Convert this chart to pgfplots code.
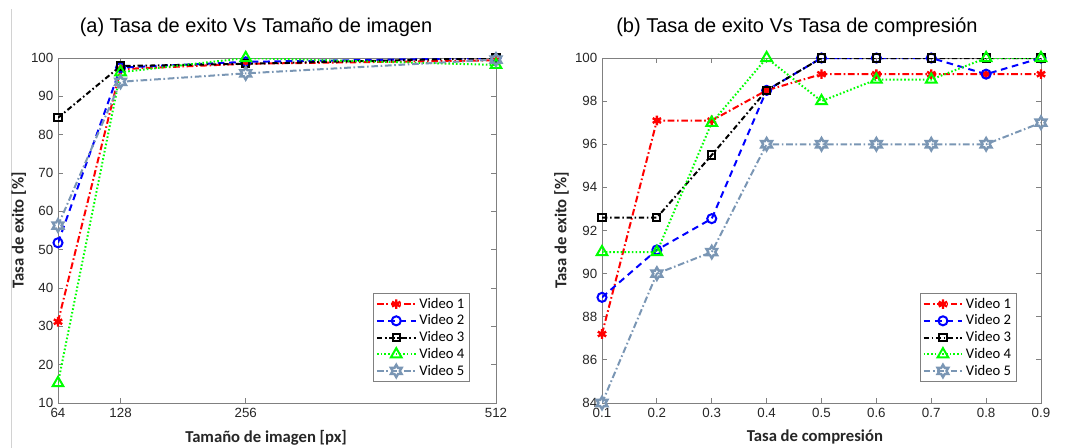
\documentclass[border=0pt]{standalone}
\usepackage{fontspec}
\setmainfont{Liberation Sans}
\newfontfamily\calfont{Carlito}
\usepackage{pgfplots}
\pgfplotsset{compat=1.18}
\usetikzlibrary{plotmarks}

\definecolor{vgray}{RGB}{122,150,180}
\definecolor{axgray}{RGB}{128,128,128}
\definecolor{txtgray}{RGB}{38,38,38}

% six-pointed star (MATLAB hexagram)
\pgfdeclareplotmark{hexagram}{%
  \pgfpathmoveto{\pgfpointpolar{90}{\pgfplotmarksize}}%
  \pgfpathlineto{\pgfpointpolar{120}{0.577\pgfplotmarksize}}%
  \pgfpathlineto{\pgfpointpolar{150}{\pgfplotmarksize}}%
  \pgfpathlineto{\pgfpointpolar{180}{0.577\pgfplotmarksize}}%
  \pgfpathlineto{\pgfpointpolar{210}{\pgfplotmarksize}}%
  \pgfpathlineto{\pgfpointpolar{240}{0.577\pgfplotmarksize}}%
  \pgfpathlineto{\pgfpointpolar{270}{\pgfplotmarksize}}%
  \pgfpathlineto{\pgfpointpolar{300}{0.577\pgfplotmarksize}}%
  \pgfpathlineto{\pgfpointpolar{330}{\pgfplotmarksize}}%
  \pgfpathlineto{\pgfpointpolar{0}{0.577\pgfplotmarksize}}%
  \pgfpathlineto{\pgfpointpolar{30}{\pgfplotmarksize}}%
  \pgfpathlineto{\pgfpointpolar{60}{0.577\pgfplotmarksize}}%
  \pgfpathclose\pgfusepathqstroke}

\pgfplotsset{
  matlab/.style={
    scale only axis,
    height=258.75pt,
    axis line style={axgray, line width=0.6pt},
    tick style={axgray, line width=0.6pt},
    major tick length=4pt,
    tick align=inside,
    ticklabel style={font=\fontsize{10}{12}\selectfont, text=txtgray},
    /pgf/number format/assume math mode=true,
    title style={anchor=base, yshift=13.5pt, font=\fontsize{15}{18}\selectfont, inner sep=0pt},
    label style={font=\calfont\bfseries\fontsize{12.5}{15}\selectfont, text=txtgray, inner sep=0pt},
    legend style={draw=axgray, line width=0.6pt, fill=white, anchor=north east,
      font=\calfont\fontsize{11}{12}\selectfont, cells={anchor=west},
      inner xsep=2pt, inner ysep=1.5pt, row sep=-0.6pt},
    legend image code/.code={%
      \draw[mark repeat=2,mark phase=2] plot coordinates {(0pt,0pt) (14.5pt,0pt) (29pt,0pt)};},
    every axis plot/.append style={line width=1.5pt},
  },
  v1/.style={red, dash pattern=on 5pt off 2pt on 1.2pt off 2pt, mark=asterisk, mark size=3.6pt,
    mark options={solid, line width=1.8pt}},
  v2/.style={blue, dash pattern=on 5pt off 3.5pt, mark=o, mark size=3.4pt,
    mark options={solid, line width=1.5pt}},
  v3/.style={black, dash pattern=on 4pt off 2pt on 1.2pt off 2pt, mark=square, mark size=2.7pt,
    mark options={solid, line width=1.5pt}},
  v4/.style={green, dash pattern=on 1.2pt off 1.6pt, mark=triangle, mark size=4.6pt,
    mark options={solid, line width=1.5pt}},
  v5/.style={vgray, dash pattern=on 5pt off 2pt on 1.2pt off 2pt, mark=hexagram, mark size=4.6pt,
    mark options={solid, line width=1.8pt}},
}

\begin{document}
\begin{tikzpicture}
\useasboundingbox (0,0) rectangle (801pt,-335.25pt);
\draw[gray!35, line width=0.6pt] (8.5pt,-7pt) -- (8.5pt,-336pt);

\begin{axis}[
  matlab,
  at={(43.5pt,-302.25pt)}, anchor=south west,
  width=328.5pt,
  xmin=64, xmax=512, ymin=10, ymax=100,
  xtick={64,128,256,512},
  ytick={10,20,...,100},
  title={(a) Tasa de exito Vs Tamaño de imagen},
  title style={at={(axis description cs:0.452,1)}},
  xlabel={Tamaño de imagen [px]},
  ylabel={Tasa de exito [\%]},
  xlabel style={at={(axis description cs:0.475,-0.078)}, anchor=north},
  ylabel style={at={(axis description cs:-0.072,0.5)}, anchor=south},
  legend style={at={(axis description cs:0.941,0.319)}, anchor=north east},
]
\addplot[v1] coordinates {(64,31.2) (128,97.1) (256,98.5) (512,99.4)};
\addplot[v2] coordinates {(64,51.8) (128,97.5) (256,99.0) (512,100)};
\addplot[v3] coordinates {(64,84.4) (128,97.9) (256,98.5) (512,100)};
\addplot[v4] coordinates {(64,15.2) (128,96.3) (256,100) (512,98.2)};
\addplot[v5] coordinates {(64,56.3) (128,93.8) (256,96.0) (512,99.6)};
\legend{Video 1, Video 2, Video 3, Video 4, Video 5}
\end{axis}

\begin{axis}[
  matlab,
  at={(451.5pt,-302.25pt)}, anchor=south west,
  width=329.25pt,
  xmin=0.1, xmax=0.9, ymin=84, ymax=100,
  xtick={0.1,0.2,...,0.9},
  ytick={84,86,...,100},
  xticklabel style={/pgf/number format/.cd, fixed, fixed zerofill, precision=1},
  title={(b) Tasa de exito Vs Tasa de compresión},
  title style={at={(axis description cs:0.444,1)}},
  xlabel={Tasa de compresión},
  ylabel={Tasa de exito [\%]},
  xlabel style={at={(axis description cs:0.485,-0.078)}, anchor=north},
  ylabel style={at={(axis description cs:-0.075,0.5)}, anchor=south},
  legend style={at={(axis description cs:0.945,0.319)}, anchor=north east},
]
\addplot[v1] coordinates {(0.1,87.2) (0.2,97.1) (0.3,97.1) (0.4,98.5) (0.5,99.25) (0.6,99.25) (0.7,99.25) (0.8,99.25) (0.9,99.25)};
\addplot[v2] coordinates {(0.1,88.9) (0.2,91.1) (0.3,92.55) (0.4,98.5) (0.5,100) (0.6,100) (0.7,100) (0.8,99.25) (0.9,100)};
\addplot[v3] coordinates {(0.1,92.6) (0.2,92.6) (0.3,95.5) (0.4,98.5) (0.5,100) (0.6,100) (0.7,100) (0.8,100) (0.9,100)};
\addplot[v4] coordinates {(0.1,91.0) (0.2,91.0) (0.3,97.0) (0.4,100) (0.5,98.0) (0.6,99.0) (0.7,99.0) (0.8,100) (0.9,100)};
\addplot[v5] coordinates {(0.1,84.0) (0.2,90.0) (0.3,91.0) (0.4,96.0) (0.5,96.0) (0.6,96.0) (0.7,96.0) (0.8,96.0) (0.9,97.0)};
\legend{Video 1, Video 2, Video 3, Video 4, Video 5}
\end{axis}
\end{tikzpicture}
\end{document}
